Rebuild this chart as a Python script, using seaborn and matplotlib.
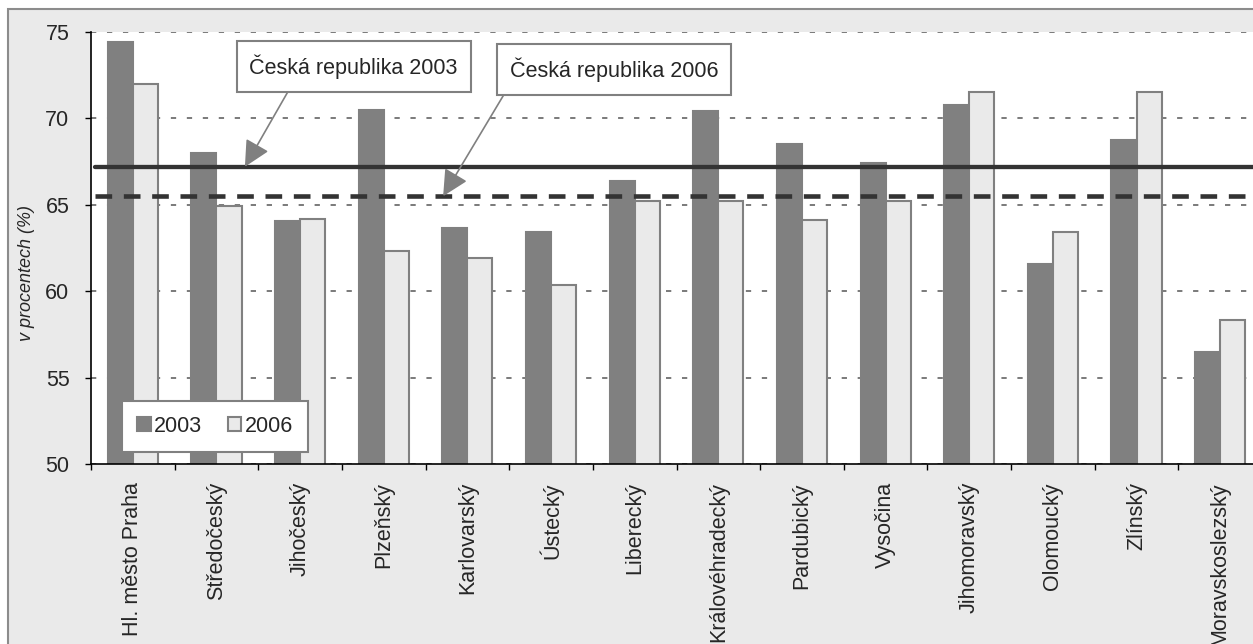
import pandas as pd
import matplotlib
matplotlib.use('Agg')
import matplotlib.pyplot as plt
from matplotlib.patches import Rectangle
import seaborn as sns

# data
regions = ['Hl. město Praha', 'Středočeský', 'Jihočeský', 'Plzeňský', 'Karlovarský',
           'Ústecký', 'Liberecký', 'Královéhradecký', 'Pardubický', 'Vysočina',
           'Jihomoravský', 'Olomoucký', 'Zlínský', 'Moravskoslezský']
v2003 = [74.4, 68.0, 64.05, 70.5, 63.65, 63.45, 66.4, 70.45, 68.5, 67.4, 70.8, 61.6, 68.75, 56.5]
v2006 = [72.0, 64.95, 64.2, 62.35, 61.9, 60.35, 65.2, 65.2, 64.1, 65.2, 71.55, 63.45, 71.55, 58.35]
years = ['2003', '2006']
cr_2003 = 67.2   # Česká republika 2003
cr_2006 = 65.5   # Česká republika 2006

df = pd.DataFrame({
    'kraj': regions * 2,
    'rok': [years[0]] * len(regions) + [years[1]] * len(regions),
    'hodnota': v2003 + v2006,
})

sns.set_style('white')
plt.rcParams['font.family'] = ['Liberation Sans', 'DejaVu Sans']
plt.rcParams['lines.scale_dashes'] = False

W, H = 1253, 644
fig = plt.figure(figsize=(W / 100, H / 100), dpi=100, facecolor='white')

# grey chart area with border (cropped on right/bottom)
frame = Rectangle((8 / W, -0.1), 1.2, 1 - 9 / H + 0.1, transform=fig.transFigure,
                  facecolor='#EAEAEA', edgecolor='#8C8C8C', linewidth=1.5, zorder=-5)
fig.patches.append(frame)

ax = fig.add_axes([91 / W, 180 / H, 1171 / W, 432 / H])
ax.set_facecolor('white')

sns.barplot(data=df, x='kraj', y='hodnota', hue='rok', hue_order=years,
            palette={'2003': '#808080', '2006': '#EAEAEA'}, saturation=1,
            width=0.6, edgecolor='#808080', linewidth=1.5, errorbar=None, ax=ax)

ax.set_ylim(50, 75)
ax.set_xlim(-0.5, len(regions) - 0.5)
ax.set_yticks([50, 55, 60, 65, 70, 75])
ax.yaxis.grid(True, color='#7A7A7A', linewidth=1.4, dashes=(3.8, 7.7))
ax.set_axisbelow(True)

for s in ['top', 'right']:
    ax.spines[s].set_visible(False)
for s in ['left', 'bottom']:
    ax.spines[s].set_color('black')
    ax.spines[s].set_linewidth(1.2)

ax.tick_params(axis='y', which='major', direction='out', length=4.5, width=1,
               color='black', pad=11, labelsize=15.5, left=True)
ax.set_xticks(range(len(regions)))
ax.set_xticklabels(regions, rotation=90, fontsize=15.5)
ax.tick_params(axis='x', which='major', length=0, pad=13)
ax.set_xticks([i - 0.5 for i in range(len(regions) + 1)], minor=True)
ax.tick_params(axis='x', which='minor', direction='out', length=4.5, width=1,
               color='black', bottom=True)

ax.set_xlabel('')
ax.set_ylabel('v procentech (%)', fontsize=13, style='italic', va='center')
ax.yaxis.set_label_coords(-0.0555, 0.442)

# reference lines
ax.axhline(cr_2003, xmin=0.003, color='#333333', linewidth=3.1, zorder=3)
ax.axhline(cr_2006, xmin=0.003, color='#333333', linewidth=3.3,
           dashes=(12, 8.4), zorder=3)

# callouts
box = dict(boxstyle='square,pad=0.6', facecolor='white', edgecolor='#808080', linewidth=1.5)
arrow = dict(arrowstyle='-|>,head_length=0.8,head_width=0.4', color='#808080',
             linewidth=1.2, mutation_scale=20, shrinkA=0, shrinkB=0)
ax.annotate('Česká republika 2003', xy=(1.34, cr_2003), xytext=(2.64, 73.0),
            ha='center', va='center', fontsize=15.5, bbox=box, zorder=5,
            arrowprops=dict(arrow, relpos=(0.22, 0)))
ax.annotate('Česká republika 2006', xy=(3.71, cr_2006), xytext=(5.75, 72.83),
            ha='center', va='center', fontsize=15.5, bbox=box, zorder=5,
            arrowprops=dict(arrow, relpos=(0.01, 0)))

sns.move_legend(ax, 'lower left', bbox_to_anchor=(0.0265, 0.028), ncol=2, title=None,
                fontsize=15.5, frameon=True, fancybox=False, framealpha=1,
                edgecolor='#808080', borderaxespad=0, handlelength=0.63,
                handleheight=0.63, handletextpad=0.15, columnspacing=1.2,
                borderpad=0.7)
ax.get_legend().get_frame().set_linewidth(1.5)

fig.savefig('out.png', dpi=100, facecolor='white')
